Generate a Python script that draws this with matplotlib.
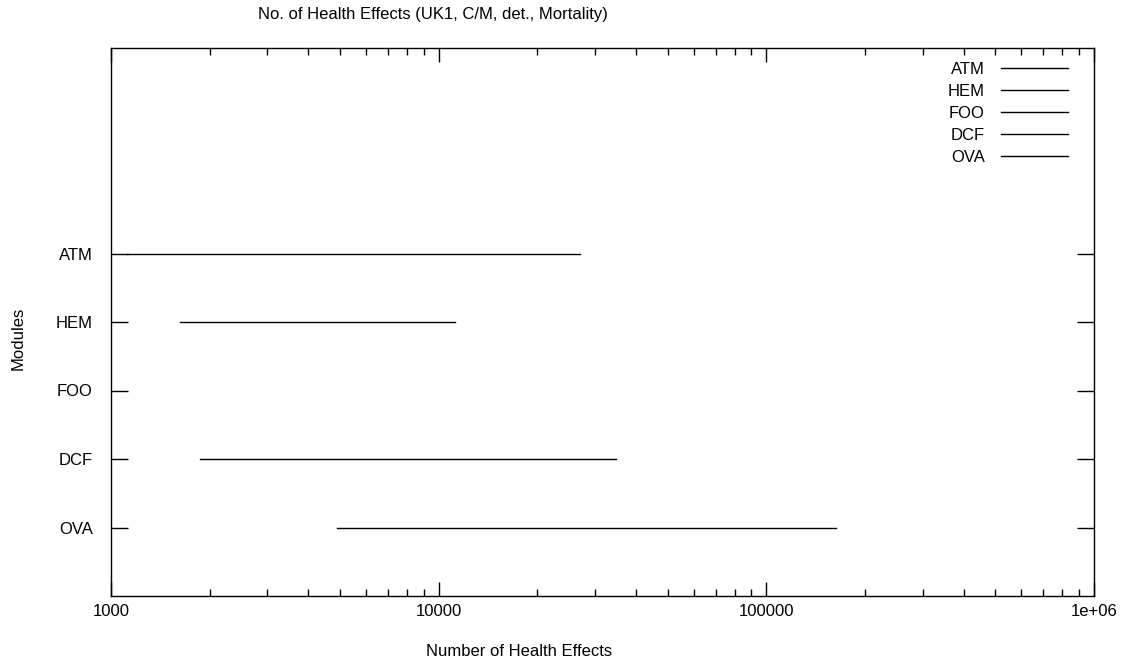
import numpy as np
import matplotlib
matplotlib.use("Agg")
import matplotlib.pyplot as plt
from matplotlib.ticker import LogLocator, FixedFormatter, FixedLocator, NullFormatter

plt.rcParams['font.family'] = ['Liberation Sans', 'DejaVu Sans']
plt.rcParams['font.size'] = 12

# module names (top to bottom) and their health-effect ranges
modules = ['ATM', 'HEM', 'FOO', 'DCF', 'OVA']
y_pos = [5, 4, 3, 2, 1]
low = [1120, 1625, np.nan, 1870, 4900]
high = [27000, 11200, np.nan, 34800, 163000]

x_ticks = [1000, 10000, 100000, 1000000]
x_tick_labels = ['1000', '10000', '100000', '1e+06']

fig = plt.figure(figsize=(11.25, 6.66), dpi=100)
ax = fig.add_axes([111 / 1125, 1 - 596 / 666, 983 / 1125, 548 / 666])

handles = []
for name, y, lo, hi in zip(modules, y_pos, low, high):
    h, = ax.plot([lo, hi], [y, y], color='black', lw=1, label=name)
    handles.append(h)

ax.set_xscale('log')
ax.set_xlim(1000, 1e6)
ax.set_ylim(0, 8)

ax.xaxis.set_major_locator(FixedLocator(x_ticks))
ax.xaxis.set_major_formatter(FixedFormatter(x_tick_labels))
ax.xaxis.set_minor_locator(LogLocator(base=10, subs=np.arange(2, 10)))
ax.xaxis.set_minor_formatter(NullFormatter())
ax.set_yticks(y_pos)
ax.set_yticklabels(modules)

ax.tick_params(axis='x', which='major', direction='in', length=10, width=1,
               top=True, pad=6)
ax.tick_params(axis='x', which='minor', direction='in', length=5, width=1, top=True)
ax.tick_params(axis='y', which='major', direction='in', length=12, width=1,
               right=True, pad=13)
for s in ax.spines.values():
    s.set_linewidth(1)

leg = ax.legend(handles=handles, loc='upper right', frameon=False,
                markerfirst=False, handlelength=4.0, handletextpad=1.0,
                labelspacing=0.42, borderaxespad=0.0, borderpad=0.0,
                bbox_to_anchor=(1068 / 1125, 1 - 62 / 666),
                bbox_transform=fig.transFigure)

fig.text(433 / 1125, 1 - 14 / 666, 'No. of Health Effects (UK1, C/M, det., Mortality)',
         ha='center', va='center')
fig.text(519 / 1125, 1 - 652 / 666, 'Number of Health Effects', ha='center', va='center')
fig.text(18 / 1125, 1 - 338 / 666, 'Modules', ha='center', va='center', rotation=90)

fig.savefig('out.png', dpi=100)
